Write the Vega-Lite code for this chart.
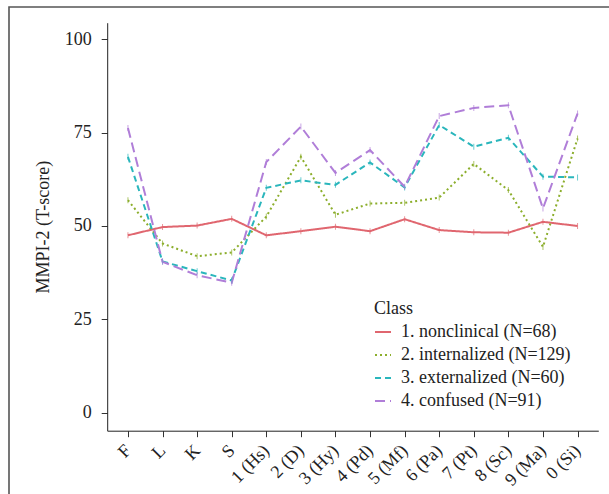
{
  "$schema": "https://vega.github.io/schema/vega-lite/v6.json",
  "width": 600,
  "height": 487,
  "autosize": {"type": "none"},
  "padding": {"left": 9, "top": 7, "right": 0, "bottom": 0},
  "background": "white",
  "config": {"view": {"stroke": "#555", "strokeWidth": 1.6, "strokeDash": [600, 1087, 487, 1]}, "font": "Liberation Serif"},
  "data": {"values": [
    {"scale": "F", "cls": "1. nonclinical (N=68)", "value": 47.5},
    {"scale": "L", "cls": "1. nonclinical (N=68)", "value": 49.7},
    {"scale": "K", "cls": "1. nonclinical (N=68)", "value": 50.1},
    {"scale": "S", "cls": "1. nonclinical (N=68)", "value": 51.9},
    {"scale": "1 (Hs)", "cls": "1. nonclinical (N=68)", "value": 47.5},
    {"scale": "2 (D)", "cls": "1. nonclinical (N=68)", "value": 48.6},
    {"scale": "3 (Hy)", "cls": "1. nonclinical (N=68)", "value": 49.8},
    {"scale": "4 (Pd)", "cls": "1. nonclinical (N=68)", "value": 48.6},
    {"scale": "5 (Mf)", "cls": "1. nonclinical (N=68)", "value": 51.8},
    {"scale": "6 (Pa)", "cls": "1. nonclinical (N=68)", "value": 48.9},
    {"scale": "7 (Pt)", "cls": "1. nonclinical (N=68)", "value": 48.3},
    {"scale": "8 (Sc)", "cls": "1. nonclinical (N=68)", "value": 48.2},
    {"scale": "9 (Ma)", "cls": "1. nonclinical (N=68)", "value": 51.1},
    {"scale": "0 (Si)", "cls": "1. nonclinical (N=68)", "value": 50.0},
    {"scale": "F", "cls": "2. internalized (N=129)", "value": 56.9},
    {"scale": "L", "cls": "2. internalized (N=129)", "value": 45.3},
    {"scale": "K", "cls": "2. internalized (N=129)", "value": 41.9},
    {"scale": "S", "cls": "2. internalized (N=129)", "value": 42.9},
    {"scale": "1 (Hs)", "cls": "2. internalized (N=129)", "value": 52.5},
    {"scale": "2 (D)", "cls": "2. internalized (N=129)", "value": 68.5},
    {"scale": "3 (Hy)", "cls": "2. internalized (N=129)", "value": 53.0},
    {"scale": "4 (Pd)", "cls": "2. internalized (N=129)", "value": 56.0},
    {"scale": "5 (Mf)", "cls": "2. internalized (N=129)", "value": 56.2},
    {"scale": "6 (Pa)", "cls": "2. internalized (N=129)", "value": 57.6},
    {"scale": "7 (Pt)", "cls": "2. internalized (N=129)", "value": 66.6},
    {"scale": "8 (Sc)", "cls": "2. internalized (N=129)", "value": 59.6},
    {"scale": "9 (Ma)", "cls": "2. internalized (N=129)", "value": 44.4},
    {"scale": "0 (Si)", "cls": "2. internalized (N=129)", "value": 73.4},
    {"scale": "F", "cls": "3. externalized (N=60)", "value": 68.5},
    {"scale": "L", "cls": "3. externalized (N=60)", "value": 40.5},
    {"scale": "K", "cls": "3. externalized (N=60)", "value": 37.9},
    {"scale": "S", "cls": "3. externalized (N=60)", "value": 35.4},
    {"scale": "1 (Hs)", "cls": "3. externalized (N=60)", "value": 60.2},
    {"scale": "2 (D)", "cls": "3. externalized (N=60)", "value": 62.2},
    {"scale": "3 (Hy)", "cls": "3. externalized (N=60)", "value": 61.0},
    {"scale": "4 (Pd)", "cls": "3. externalized (N=60)", "value": 67.0},
    {"scale": "5 (Mf)", "cls": "3. externalized (N=60)", "value": 60.3},
    {"scale": "6 (Pa)", "cls": "3. externalized (N=60)", "value": 77.0},
    {"scale": "7 (Pt)", "cls": "3. externalized (N=60)", "value": 71.2},
    {"scale": "8 (Sc)", "cls": "3. externalized (N=60)", "value": 73.6},
    {"scale": "9 (Ma)", "cls": "3. externalized (N=60)", "value": 63.2},
    {"scale": "0 (Si)", "cls": "3. externalized (N=60)", "value": 63.0},
    {"scale": "F", "cls": "4. confused (N=91)", "value": 76.2},
    {"scale": "L", "cls": "4. confused (N=91)", "value": 40.4},
    {"scale": "K", "cls": "4. confused (N=91)", "value": 36.8},
    {"scale": "S", "cls": "4. confused (N=91)", "value": 34.8},
    {"scale": "1 (Hs)", "cls": "4. confused (N=91)", "value": 67.1},
    {"scale": "2 (D)", "cls": "4. confused (N=91)", "value": 76.6},
    {"scale": "3 (Hy)", "cls": "4. confused (N=91)", "value": 64.2},
    {"scale": "4 (Pd)", "cls": "4. confused (N=91)", "value": 70.3},
    {"scale": "5 (Mf)", "cls": "4. confused (N=91)", "value": 60.5},
    {"scale": "6 (Pa)", "cls": "4. confused (N=91)", "value": 79.4},
    {"scale": "7 (Pt)", "cls": "4. confused (N=91)", "value": 81.6},
    {"scale": "8 (Sc)", "cls": "4. confused (N=91)", "value": 82.3},
    {"scale": "9 (Ma)", "cls": "4. confused (N=91)", "value": 54.7},
    {"scale": "0 (Si)", "cls": "4. confused (N=91)", "value": 80.1}
  ]},
  "encoding": {
    "x": {
      "field": "scale", "type": "nominal",
      "sort": ["F", "L", "K", "S", "1 (Hs)", "2 (D)", "3 (Hy)", "4 (Pd)", "5 (Mf)", "6 (Pa)", "7 (Pt)", "8 (Sc)", "9 (Ma)", "0 (Si)"],
      "scale": {"type": "point", "padding": 0.6, "range": [98.2, 589.3]},
      "axis": {"title": null, "offset": -63.3, "labelAngle": -45, "labelBaseline": "middle", "labelFontSize": 18, "labelColor": "#222", "tickSize": 6, "tickColor": "#333", "domainColor": "#222", "labelPadding": 11, "grid": false}
    },
    "y": {
      "field": "value", "type": "quantitative",
      "scale": {"domain": [-4.8, 104.4], "nice": false, "zero": false, "range": [423.7, 15.7]},
      "axis": {"title": "MMPI-2 (T-score)", "offset": -98.2, "values": [0, 25, 50, 75, 100], "labelFontSize": 18, "labelColor": "#222", "tickSize": 6, "tickColor": "#333", "domainColor": "#222", "labelPadding": 10, "titleFontSize": 18, "titleFontWeight": "normal", "titleColor": "#222", "titlePadding": 12, "grid": false}
    }
  },
  "layer": [
    {
      "mark": {"type": "line", "strokeWidth": 2},
      "encoding": {
        "stroke": {
          "field": "cls", "type": "nominal", "title": "Class",
          "scale": {"range": ["#e0666f", "#8cae2c", "#2ab6bc", "#b07ed8"]},
          "legend": {"orient": "none", "legendX": 365, "legendY": 293, "symbolType": "stroke", "symbolSize": 256, "symbolStrokeWidth": 2, "titleFontSize": 18, "titleFontWeight": "normal", "titleColor": "#222", "labelFontSize": 18, "labelColor": "#222", "labelLimit": 400, "rowPadding": 5, "labelOffset": 9}
        },
        "strokeDash": {
          "field": "cls", "type": "nominal", "title": "Class",
          "scale": {"range": [[1, 0], [2, 3], [6, 4], [10, 5]]},
          "legend": {"orient": "none", "legendX": 365, "legendY": 293, "symbolType": "stroke", "symbolSize": 256, "symbolStrokeWidth": 2, "titleFontSize": 18, "titleFontWeight": "normal", "titleColor": "#222", "labelFontSize": 18, "labelColor": "#222", "labelLimit": 400, "rowPadding": 5, "labelOffset": 9}
        }
      }
    },
    {
      "mark": {"type": "tick", "orient": "vertical", "size": 6, "thickness": 1},
      "encoding": {
        "fill": {"field": "cls", "type": "nominal", "scale": {"range": ["#e0666f", "#8cae2c", "#2ab6bc", "#b07ed8"]}, "legend": null}
      }
    }
  ]
}
